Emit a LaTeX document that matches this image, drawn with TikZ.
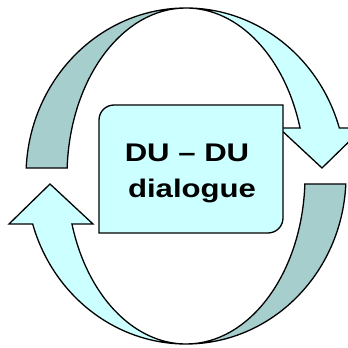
\documentclass[tikz,border=0pt]{standalone}
\usepackage{fontspec}
\usepackage{graphicx}
\setmainfont{Liberation Sans}
\definecolor{ribbonback}{RGB}{166,206,204}
\definecolor{ribbonfront}{RGB}{204,255,255}
\begin{document}
\begin{tikzpicture}[x=1pt,y=1pt,
		back face/.style={fill=ribbonback,draw=black,line width=1.3pt},
		front face/.style={fill=ribbonfront,draw=black,line width=1.3pt},
		dialogue box/.style={fill=ribbonfront,draw=black,line width=1.3pt},
		box text/.style={anchor=base,inner sep=0pt,font=\bfseries\fontsize{25.5}{30}\selectfont}]
		\useasboundingbox (0,0) rectangle (348,348);
		\coordinate (centre) at (186,172);
		
		% the two twisted arrows, the lower one is the upper one turned round
		\foreach \turn in {0,180}{
			\begin{scope}[shift={(centre)},rotate=\turn]
				\filldraw[back face] (177.3:160 and 168) arc[start angle=177.3,end angle=90,x radius=160,y radius=168]
				arc[start angle=90,end angle=177.3,x radius=119,y radius=168] -- cycle;
				\filldraw[front face] (0,168) arc[start angle=90,end angle=16.6,x radius=160,y radius=168]
				-- (177,48) -- (136,8) -- (93,48) -- (16.6:119 and 168)
				arc[start angle=16.6,end angle=90,x radius=119,y radius=168] -- cycle;
			\end{scope}
		}
		
		\filldraw[dialogue box] (99,115) -- (99,228) arc[start angle=180,end angle=90,radius=15]
		-- (283,243) -- (283,130) arc[start angle=0,end angle=-90,radius=15] -- cycle;
		\node[box text] (duline) at (187,186) {\scalebox{1.22}[1]{DU – DU}};
		\node[box text] (dialogueline) at (192,150) {\scalebox{1.22}[1]{dialogue}};
\end{tikzpicture}
\end{document}
